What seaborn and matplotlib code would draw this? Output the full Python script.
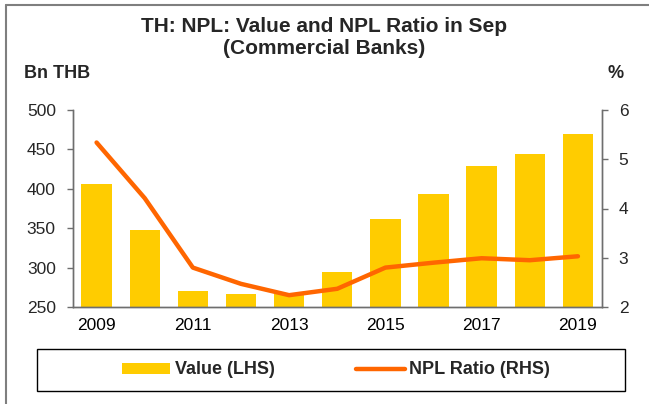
import numpy as np
import seaborn as sns
import matplotlib.pyplot as plt
from matplotlib.patches import Patch, Rectangle
from matplotlib.lines import Line2D

# -------------------------------
# Data
# -------------------------------
years = ["2009", "2010", "2011", "2012", "2013", "2014",
         "2015", "2016", "2017", "2018", "2019"]
npl_value = [406, 348, 270, 266, 267, 295, 362, 394, 429, 444, 470]   # Bn THB
npl_ratio = [5.34, 4.21, 2.80, 2.47, 2.24, 2.37, 2.80, 2.90, 2.99, 2.95, 3.03]  # %

bar_color = "#FFCC00"
line_color = "#FF6600"
axis_color = "#6E6E6E"

# -------------------------------
# Style
# -------------------------------
sns.set_theme(style="white")
plt.rcParams["font.family"] = ["Liberation Sans", "DejaVu Sans"]

fig = plt.figure(figsize=(6.49, 4.04), dpi=100)
ax = fig.add_axes([72.5 / 649, 1 - 307 / 404, (602 - 72.5) / 649, (307 - 110) / 404])

# -------------------------------
# Bars (LHS)
# -------------------------------
sns.barplot(x=years, y=npl_value, color=bar_color, width=0.63,
            linewidth=0, saturation=1, ax=ax)
ax.set_ylim(250, 500)
ax.set_yticks(np.arange(250, 501, 50))
ax.set_xlim(-0.5, len(years) - 0.5)

# -------------------------------
# Line (RHS)
# -------------------------------
ax2 = ax.twinx()
sns.lineplot(x=np.arange(len(years)), y=npl_ratio, color=line_color,
             linewidth=3.2, ax=ax2)
ax2.set_ylim(2, 6)
ax2.set_yticks(np.arange(2, 7, 1))
ax2.set_xlim(-0.5, len(years) - 0.5)

# -------------------------------
# Axes cosmetics
# -------------------------------
tick_size = 12.5
ax.set_xticks(np.arange(0, len(years), 2))
ax.set_xticklabels(years[::2])
ax.set_xticks(np.arange(-0.5, len(years), 1), minor=True)
ax.tick_params(axis="x", which="major", length=0, pad=8, labelsize=tick_size, colors="black")
ax.tick_params(axis="x", which="minor", length=4, width=1, color=axis_color, direction="out")
ax.tick_params(axis="y", length=4, width=1, color=axis_color, pad=8, labelsize=tick_size,
               direction="out", left=True)
ax2.tick_params(axis="y", length=4, width=1, color=axis_color, pad=8, labelsize=tick_size,
                direction="out", right=True)
ax.set_xlabel("")
ax.set_ylabel("")
ax2.set_ylabel("")

for a in (ax, ax2):
    a.spines["top"].set_visible(False)
    for s in ("left", "right", "bottom"):
        a.spines[s].set_color(axis_color)
        a.spines[s].set_linewidth(1)
ax.set_zorder(0)
ax2.patch.set_visible(False)

# -------------------------------
# Titles
# -------------------------------
fig.text(0.5, 1 - 27 / 404, "TH: NPL: Value and NPL Ratio in Sep",
         ha="center", va="center", fontsize=15, fontweight="bold")
fig.text(0.5, 1 - 49 / 404, "(Commercial Banks)",
         ha="center", va="center", fontsize=15, fontweight="bold")
fig.text(24 / 649, 1 - 74 / 404, "Bn THB", ha="left", va="center",
         fontsize=13, fontweight="bold")
fig.text(608 / 649, 1 - 74 / 404, "%", ha="left", va="center",
         fontsize=13, fontweight="bold")

# -------------------------------
# Legend
# -------------------------------
handles = [Patch(facecolor=bar_color, edgecolor="none"),
           Line2D([], [], color=line_color, linewidth=3.2)]
fig.legend(handles, ["Value (LHS)", "NPL Ratio (RHS)"], ncol=2,
           loc="center", bbox_to_anchor=(336 / 649, 1 - 370 / 404),
           frameon=False, prop={"weight": "bold", "size": 13},
           handlelength=2.7, handleheight=0.55, handletextpad=0.25,
           columnspacing=4.5)
fig.patches.append(Rectangle((37 / 649, 1 - 391 / 404), (625 - 37) / 649, 42 / 404,
                             transform=fig.transFigure, fill=False,
                             edgecolor="black", linewidth=1))

# outer frame (top and left edges)
fig.add_artist(Line2D([5.5 / 649, 5.5 / 649], [0, 1 - 4.5 / 404],
                      transform=fig.transFigure, color="#7F7F7F", linewidth=1.5))
fig.add_artist(Line2D([5.5 / 649, 1], [1 - 4.5 / 404, 1 - 4.5 / 404],
                      transform=fig.transFigure, color="#7F7F7F", linewidth=1.5))

fig.savefig("out.png", dpi=100)
plt.close(fig)
